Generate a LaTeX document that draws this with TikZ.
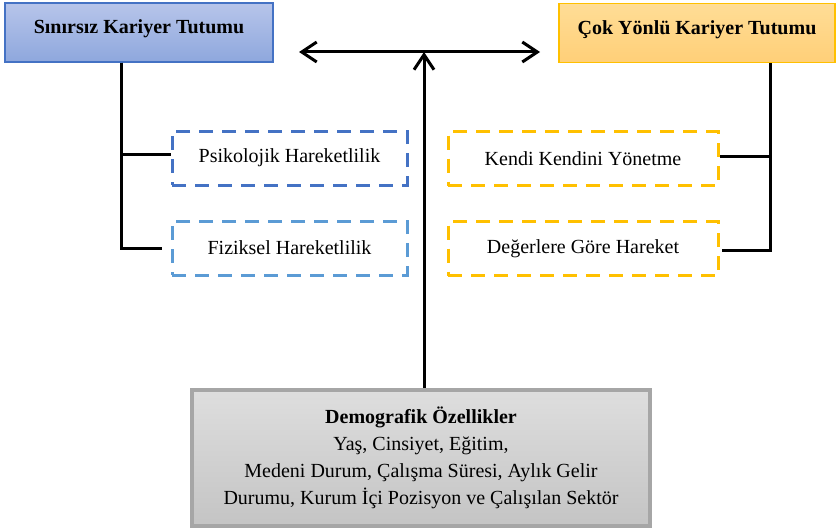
\documentclass[tikz,border=0pt]{standalone}
\usepackage{fontspec}
\setmainfont{Liberation Serif}
\usetikzlibrary{arrows.meta,positioning,calc}
\definecolor{blueline}{RGB}{68,114,196}
\definecolor{skyline}{RGB}{91,155,213}
\definecolor{goldline}{RGB}{255,192,0}
\definecolor{bluetop}{RGB}{183,197,234}
\definecolor{bluebot}{RGB}{142,167,221}
\definecolor{goldtop}{RGB}{255,221,150}
\definecolor{goldbot}{RGB}{255,207,120}
\definecolor{greytop}{RGB}{222,222,222}
\definecolor{greybot}{RGB}{196,196,196}
\definecolor{greyline}{RGB}{166,166,166}

\begin{document}
\begin{tikzpicture}[
    x=1pt, y=-1pt,
    head/.style={rectangle, minimum height=59pt, text depth=11pt, line width=1.2pt, font=\fontsize{20}{24}\selectfont\bfseries},
    trait/.style={rectangle, minimum height=54pt, line width=3pt, dash pattern=on 14pt off 9pt, font=\fontsize{20}{24}\selectfont},
    source/.style={rectangle, draw=greyline, line width=4pt, top color=greytop, bottom color=greybot, minimum width=458pt, minimum height=136pt, align=center, font=\fontsize{20}{27}\selectfont},
    link/.style={black, line width=3pt},
    barb/.tip={Straight Barb[length=15pt, width=20pt]}
]
    \useasboundingbox (0,0) rectangle (837,532);

    % Career attitudes
    \node[head, draw=blueline, top color=bluetop, bottom color=bluebot, minimum width=268pt] (sinirsiz) at (139,32.5) {Sınırsız Kariyer Tutumu};
    \node[head, draw=goldline, top color=goldtop, bottom color=goldbot, minimum width=276pt] (cok) at (697,33) {Çok Yönlü Kariyer Tutumu};

    % Dimensions
    \node[trait, draw=blueline, minimum width=235pt] (psi) at (289.5,158) {Psikolojik Hareketlilik};
    \node[trait, draw=skyline, minimum width=235pt, below=33pt of psi] (fiz) {Fiziksel Hareketlilik};
    \node[trait, draw=goldline, minimum width=270pt] (kendi) at (583,158.5) {Kendi Kendini Yönetme};
    \node[trait, draw=goldline, minimum width=270pt, below=33pt of kendi] (deger) {Değerlere Göre Hareket};

    % Demographics
    \node[source] (demo) at (421,458) {\textbf{Demografik Özellikler}\\Yaş, Cinsiyet, Eğitim,\\Medeni Durum, Çalışma Süresi, Aylık Gelir\\Durumu, Kurum İçi Pozisyon ve Çalışılan Sektör};

    % Brackets
    \draw[link] ([xshift=-18pt]sinirsiz.south) |- ([yshift=4pt]psi.west);
    \draw[link] ([xshift=-18pt]sinirsiz.south) |- ([xshift=-9pt]fiz.west);
    \draw[link] ([xshift=73pt]cok.south) |- ([yshift=2pt]kendi.east);
    \draw[link] ([xshift=73pt]cok.south) |- ([xshift=2pt,yshift=-1.5pt]deger.east);

    % Arrows
    \coordinate (hub) at (424,52);
    \coordinate (tipL) at (299,52);
    \coordinate (tipR) at (540,52);
    \draw[link, barb-barb] (tipL) -- (tipR);
    \draw[link, -barb] (demo.north -| hub) -- (hub);
\end{tikzpicture}
\end{document}
